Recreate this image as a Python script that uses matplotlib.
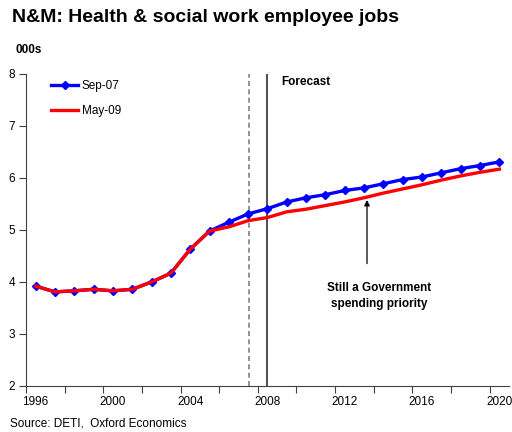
import numpy as np
import matplotlib.pyplot as plt

plt.rcParams['font.family'] = ['Liberation Sans', 'DejaVu Sans']

years = np.arange(1996, 2021)
sep07 = [3.92, 3.81, 3.83, 3.86, 3.83, 3.86, 4.00, 4.17, 4.63, 4.98, 5.15, 5.31,
         5.41, 5.54, 5.62, 5.68, 5.76, 5.81, 5.89, 5.97, 6.02, 6.10, 6.18, 6.24, 6.31]
may09 = [3.92, 3.81, 3.83, 3.86, 3.83, 3.86, 4.00, 4.17, 4.63, 4.98, 5.06, 5.18,
         5.24, 5.35, 5.40, 5.47, 5.54, 5.62, 5.71, 5.79, 5.87, 5.96, 6.04, 6.11, 6.17]
label_years = [1996, 2000, 2004, 2008, 2012, 2016, 2020]

fig = plt.figure(figsize=(5.12, 4.32), dpi=100)
ax = fig.add_axes([26 / 512, 46 / 432, 483 / 512, 312 / 432])

ax.plot(years, sep07, color='#0000ff', lw=2.4, marker='D', ms=4.2, label='Sep-07', zorder=3)
ax.plot(years, may09, color='#ff0000', lw=2.4, label='May-09', zorder=4)

# forecast markers
ax.axvline(2007.05, color='#808080', lw=1.2, ls=(0, (3, 2)), zorder=1)
ax.axvline(2007.95, color='#404040', lw=1.3, zorder=1)
ax.text(2008.7, 7.85, 'Forecast', fontsize=8.5, fontweight='bold', va='center')

ax.annotate('', xy=(2013.15, 5.63), xytext=(2013.15, 4.3),
            arrowprops=dict(arrowstyle='-|>', color='black', lw=0.9, mutation_scale=8))
ax.text(2013.8, 3.73, 'Still a Government\nspending priority', fontsize=8.5,
        fontweight='bold', ha='center', va='center', linespacing=1.5)

ax.set_xlim(1995.5, 2020.5)
ax.set_ylim(2, 8)
ax.set_yticks(range(2, 9))
ax.set_xticks(np.arange(1995.5, 2020, 2))
ax.set_xticklabels([])
ax.set_xticks(label_years, minor=True)
ax.set_xticklabels([str(y) for y in label_years], minor=True)
ax.tick_params(axis='x', which='minor', length=0, pad=7, labelsize=8.5)
ax.tick_params(axis='x', which='major', length=5, color='#404040')
ax.tick_params(axis='y', length=5, color='#404040', labelsize=8.5, pad=3)
for s in ['top', 'right']:
    ax.spines[s].set_visible(False)
for s in ['left', 'bottom']:
    ax.spines[s].set_color('#404040')

ax.legend(loc='upper left', bbox_to_anchor=(0.03, 1.015), frameon=False, fontsize=8.5,
          handlelength=2.3, handletextpad=0.3, labelspacing=1.1)

fig.text(12 / 512, 1 - 18 / 432, 'N&M: Health & social work employee jobs',
         fontsize=14, fontweight='bold', va='center')
fig.text(16 / 512, 1 - 50 / 432, '000s', fontsize=8.5, fontweight='bold', va='center')
fig.text(10 / 512, 1 - 424 / 432, 'Source: DETI,  Oxford Economics', fontsize=8.5, va='center')

fig.savefig('out.png', dpi=100)
